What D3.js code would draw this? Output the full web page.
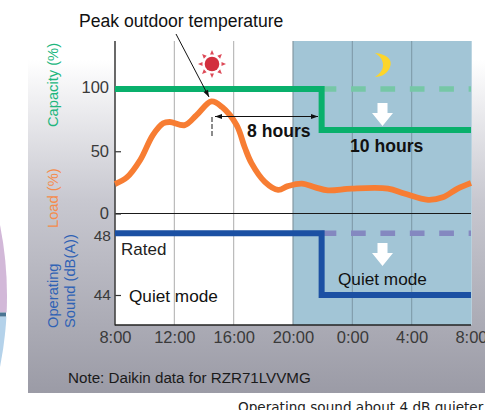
<!DOCTYPE html>
<html><head><meta charset="utf-8">
<script src="https://cdn.jsdelivr.net/npm/d3@7"></script>
<style>html,body{margin:0;padding:0;background:#fff}svg{display:block}text{font-family:"Liberation Sans",Arial,sans-serif}</style>
</head><body><div id="c"></div>
<script>
const tickHours=[0,4,8,12,16,20,24];
const tickLabels=["8:00","12:00","16:00","20:00","0:00","4:00","8:00"];
const loadHours=[0,0.8,1.7,2.55,3.25,3.7,4.7,5.5,6.5,7.2,8.2,8.75,9.2,10.1,11,11.65,12.6,13.5,14.35,15.95,18.4,19.5,21.1,22.1,23.1,24];
const loadValues=[23.7,29,43,63,72.5,73.5,71,79,90,85.7,71,53,40.5,25.5,19,22,24,21,18.6,20,20,16,11,13,20,24.5];
const capacityHours=[0,13.93,13.93,24];
const capacityValues=[100,100,67,67];
const soundHours=[0,13.93,13.93,24];
const soundValues=[48,48,44,44];
const ratedHours=[13.93,24];
const capacityRated=[100,100];
const soundRated=[48,48];
const leftTicks=[0,50,100];
const soundTicks=[44,48];

const W=485,H=410;
const svg=d3.select("#c").append("svg").attr("width",W).attr("height",H);
const defs=svg.append("defs");
const g=defs.append("linearGradient").attr("id","bg").attr("x1",0).attr("x2",0).attr("y1",0).attr("y2",1);
g.append("stop").attr("offset",0).attr("stop-color","#ffffff");
g.append("stop").attr("offset",0.42).attr("stop-color","#c8c8d0");
g.append("stop").attr("offset",1).attr("stop-color","#9b9ba6");

const x=d3.scaleLinear().domain([0,24]).range([115,471]);
const yL=d3.scaleLinear().domain([0,100]).range([213.5,89]);
const yS=d3.scaleLinear().domain([44,48]).range([295,233.3]);
const TOP=41,BOT=325;

// neighbouring pie at the left edge
defs.append("clipPath").attr("id","pu").append("rect").attr("x",0).attr("y",200).attr("width",20).attr("height",112.5);
defs.append("clipPath").attr("id","bl").append("rect").attr("x",0).attr("y",316.5).attr("width",20).attr("height",80);
svg.append("circle").attr("cx",-356.6).attr("cy",296).attr("r",363.6).attr("fill","#d2b8d8").attr("clip-path","url(#pu)");
svg.append("circle").attr("cx",-356.6).attr("cy",296).attr("r",363.6).attr("fill","#b4d2ea").attr("clip-path","url(#bl)");
svg.append("rect").attr("x",0).attr("y",312.5).attr("width",6).attr("height",4).attr("fill","#4a7593");

svg.append("rect").attr("x",28).attr("y",60).attr("width",W-28).attr("height",333).attr("fill","url(#bg)");
svg.append("rect").attr("x",115).attr("y",TOP).attr("width",356.7).attr("height",BOT-TOP).attr("fill","#fff");
svg.append("rect").attr("x",x(12)).attr("y",TOP).attr("width",x(24)-x(12)+.7).attr("height",BOT-TOP).attr("fill","#a2c5d6");

// vertical grid
svg.append("g").selectAll("line").data([4,8,12,16,20]).join("line")
  .attr("x1",d=>x(d)).attr("x2",d=>x(d)).attr("y1",TOP).attr("y2",BOT)
  .attr("stroke",d=>d<12?"#b4b4b4":d==12?"#7f929c":"#7f9ba9").attr("stroke-width",1.1);

// zero line
svg.append("line").attr("x1",x(0)).attr("x2",x(24)).attr("y1",yL(0)).attr("y2",yL(0)).attr("stroke","#1a1a1a").attr("stroke-width",1.1);

// axes
function style(a){a.select(".domain").remove();a.selectAll("line").attr("stroke","#333").attr("stroke-width",1.2);
  a.selectAll("text").attr("font-family",'"Liberation Sans",Arial,sans-serif').attr("font-size",16.5).attr("fill","#3a3a3a");}
const axL=svg.append("g").attr("transform","translate(115,0)").call(d3.axisLeft(yL).tickValues(leftTicks).tickSize(-6).tickPadding(6).tickFormat(d3.format("d")));
style(axL);axL.selectAll("text").filter(d=>d===100).attr("y",-2);
const axS=svg.append("g").attr("transform","translate(115,0)").call(d3.axisLeft(yS).tickValues(soundTicks).tickSize(-6).tickPadding(4).tickFormat(d3.format("d")));
style(axS);axS.selectAll("text").attr("font-size",15.5);axS.selectAll("text").filter(d=>d===48).attr("y",2);
const axB=svg.append("g").attr("transform",`translate(0,${BOT})`).call(d3.axisBottom(x).tickValues(tickHours).tickFormat((d,i)=>tickLabels[i]).tickSize(0).tickPadding(6));
style(axB);
svg.append("line").attr("x1",115).attr("x2",115).attr("y1",TOP).attr("y2",BOT+.6).attr("stroke","#444").attr("stroke-width",1.6);
svg.append("line").attr("x1",115).attr("x2",471).attr("y1",BOT).attr("y2",BOT).attr("stroke","#222").attr("stroke-width",1.3);

// series
const line=(yy)=>d3.line().x(d=>x(d[0])).y(d=>yy(d[1]));
const zip=(a,b)=>a.map((v,i)=>[v,b[i]]);
svg.append("path").attr("d",line(yL)(zip(ratedHours,capacityRated))).attr("fill","none").attr("stroke","#76c7a6").attr("stroke-width",5.5).attr("stroke-dasharray","14.7 14.7");
svg.append("path").attr("d",line(yS)(zip(ratedHours,soundRated))).attr("fill","none").attr("stroke","#8488c0").attr("stroke-width",5.5).attr("stroke-dasharray","14.7 14.7");
svg.append("path").attr("d",line(yL)(zip(capacityHours,capacityValues))).attr("fill","none").attr("stroke","#09b06c").attr("stroke-width",6);
svg.append("path").attr("d",line(yS)(zip(soundHours,soundValues))).attr("fill","none").attr("stroke","#1b50a3").attr("stroke-width",6);
svg.append("path").attr("d",d3.line().x(d=>x(d[0])).y(d=>yL(d[1])).curve(d3.curveCatmullRom.alpha(.5))(zip(loadHours,loadValues)))
  .attr("fill","none").attr("stroke","#f77d33").attr("stroke-width",5.8);

// peak marker
svg.append("line").attr("x1",212).attr("x2",212).attr("y1",117).attr("y2",136).attr("stroke","#666").attr("stroke-width",1.5).attr("stroke-dasharray","5 2");
function arrow(x1,y1,x2,y2,col,w,hl,hw){
  svg.append("line").attr("x1",x1).attr("y1",y1).attr("x2",x2).attr("y2",y2).attr("stroke",col).attr("stroke-width",w);
  const a=Math.atan2(y2-y1,x2-x1),c=Math.cos(a),s=Math.sin(a);
  svg.append("path").attr("d",`M${x2},${y2}L${x2-hl*c+hw*s},${y2-hl*s-hw*c}L${x2-hl*c-hw*s},${y2-hl*s+hw*c}Z`).attr("fill",col);
}
arrow(176,34,209,97,"#111",1,7,2.5);
arrow(265,116.5,215,116.5,"#111",1.2,7,2.6);
arrow(265,116.5,318,116.5,"#111",1.2,7,2.6);

// sun
const sun=svg.append("g").attr("transform","translate(212,64)");
sun.append("circle").attr("r",7.3).attr("fill","#d22f3e");
sun.selectAll("path").data(d3.range(8)).join("path").attr("d","M-2,-9.5L2,-9.5L0,-14Z").attr("fill","#dd4a58").attr("transform",d=>`rotate(${d*45})`);
// moon
svg.append("path").attr("d","M375,53C387,54 393,60 390,67C388,73 382,77 375,77C381,73 383,69 383,65C383,60 380,56 375,53Z").attr("fill","#fdd52a");
// white arrows
function down(cx,y0){svg.append("path").attr("d",`M${cx-5},${y0}H${cx+5}V${y0+10}H${cx+10.5}L${cx},${y0+23}L${cx-10.5},${y0+10}H${cx-5}Z`).attr("fill","#fff");}
down(382.5,103);down(382.5,243);

// labels
function T(t,xx,yy,o={}){const e=svg.append("text").text(t).attr("x",xx).attr("y",yy).attr("font-size",o.s||15).attr("fill",o.c||"#111")
  .attr("font-weight",o.b?"bold":"normal").attr("text-anchor",o.a||"start");
  if(o.r)e.attr("transform",`rotate(-90 ${xx} ${yy})`);if(o.f)e.style("font-family",o.f);return e;}
T("Peak outdoor temperature",79,27,{s:17.6});
T("Rated",121,255,{s:17,c:"#222"});
T("Quiet mode",129,302,{s:17.2});
T("Quiet mode",338,285,{s:17.2});
T("8 hours",247,137,{s:17.6,b:1});
T("10 hours",350,152,{s:17.6,b:1});
T("Note: Daikin data for RZR71LVVMG",68,383,{s:15.2,c:"#1a1a1a"});
T("Capacity (%)",58,127,{s:14.7,c:"#20b67d",r:1});
T("Load (%)",58,228,{s:14.7,c:"#f58b4b",r:1});
T("Operating",58,328,{s:14.7,c:"#2f62b5",r:1});
T("Sound (dB(A))",75,328,{s:14.7,c:"#2f62b5",r:1});
T("Operating sound about 4 dB quieter",238,412,{s:13.6,c:"#222",f:'"DejaVu Sans"'});
</script></body></html>
